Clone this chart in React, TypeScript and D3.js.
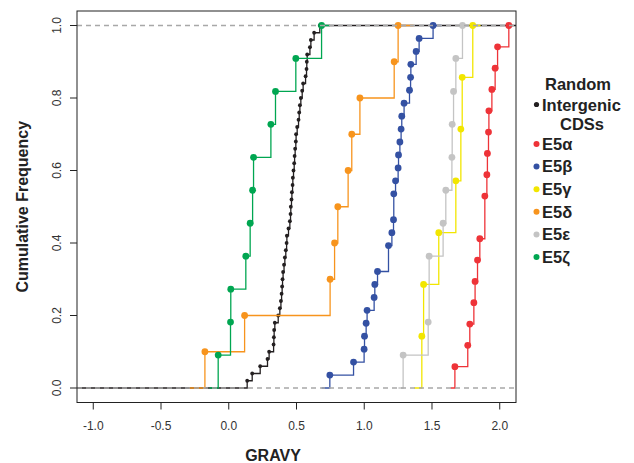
import { useEffect, useRef } from "react";
import * as d3 from "d3";

// GRAVY values, one array per group
const randomIntergenic = [
  0.136, 0.173, 0.232, 0.286, 0.298, 0.331, 0.333, 0.335, 0.340, 0.365,
  0.377, 0.385, 0.390, 0.394, 0.397, 0.401, 0.408, 0.414, 0.421, 0.427,
  0.429, 0.441, 0.451, 0.456, 0.458, 0.463, 0.466, 0.471, 0.473, 0.478,
  0.483, 0.486, 0.490, 0.495, 0.497, 0.505, 0.515, 0.520, 0.525, 0.532,
  0.542, 0.549, 0.567, 0.574, 0.576, 0.579, 0.599, 0.606, 0.630, 0.672,
];
const e5a = [
  1.669, 1.764, 1.779, 1.809, 1.818, 1.836, 1.853, 1.890, 1.890, 1.905,
  1.909, 1.917, 1.920, 1.942, 1.966, 1.984, 2.067,
];
const e5b = [
  0.746, 0.921, 0.999, 1.002, 1.014, 1.021, 1.073, 1.078, 1.098, 1.179,
  1.179, 1.204, 1.216, 1.218, 1.218, 1.231, 1.250, 1.253, 1.263, 1.272,
  1.277, 1.294, 1.334, 1.342, 1.344, 1.383, 1.405, 1.508,
];
const e5g = [1.425, 1.438, 1.550, 1.676, 1.713, 1.723, 1.801];
const e5d = [-0.176, 0.117, 0.748, 0.781, 0.805, 0.881, 0.908, 0.968, 1.221, 1.250];
const e5e = [1.287, 1.472, 1.479, 1.479, 1.582, 1.602, 1.647, 1.649, 1.659, 1.676, 1.725];
const e5z = [-0.078, 0.013, 0.015, 0.126, 0.158, 0.176, 0.183, 0.311, 0.345, 0.495, 0.685];

const seriesNames = ["E5α", "E5β", "E5γ", "E5δ", "E5ε", "E5ζ"];
const seriesColors = ["#ee3338", "#3451a3", "#f2e600", "#f7941d", "#c4c4c4", "#00a651"];
const seriesValues = [e5a, e5b, e5g, e5d, e5e, e5z];

const xTicks = [-1, -0.5, 0, 0.5, 1, 1.5, 2];
const xTickLabels = ["-1.0", "-0.5", "0.0", "0.5", "1.0", "1.5", "2.0"];
const yTicks = [0, 0.2, 0.4, 0.6, 0.8, 1];
const yTickLabels = ["0.0", "0.2", "0.4", "0.6", "0.8", "1.0"];

const W = 634;
const H = 463;
const FONT = "'Liberation Sans', Arial, Helvetica, sans-serif";

export default function App() {
  const ref = useRef<SVGSVGElement | null>(null);

  useEffect(() => {
    if (!ref.current) return;
    const svg = d3.select(ref.current);
    svg.selectAll("*").remove();

    const left = 77, right = 516, top = 11, bottom = 402.5;
    const x = d3.scaleLinear().domain([-1.12, 2.12]).range([left, right]);
    const y = d3.scaleLinear().domain([-0.04, 1.04]).range([bottom, top]);

    svg.append("rect").attr("width", W).attr("height", H).attr("fill", "#fff");

    svg.append("defs").append("clipPath").attr("id", "plotclip")
      .append("rect")
      .attr("x", left).attr("y", top)
      .attr("width", right - left).attr("height", bottom - top);

    const plot = svg.append("g").attr("clip-path", "url(#plotclip)");

    // ecdf like R's plot.stepfun; first one gets xlim = c(-1, 2)
    const drawEcdf = (vals: number[], color: string, r: number, full: boolean) => {
      const sorted = vals.slice().sort((a, b) => a - b);
      const n = sorted.length;
      const knots = Array.from(new Set(sorted));
      const pts = knots.map((k) => [k, sorted.filter((v) => v <= k).length / n]);
      const lo = knots[0], hi = knots[knots.length - 1];
      let dr: number;
      if (full) dr = 3;
      else {
        const diffs = d3.pairs(knots).map(([a, b]) => b - a);
        dr = Math.max(0.08 * (hi - lo), d3.median(diffs) ?? 0);
      }
      const path = [[lo - dr, 0], ...pts, [hi + dr, 1]];
      const line = d3.line<number[]>()
        .x((d) => x(d[0]))
        .y((d) => y(d[1]))
        .curve(d3.curveStepAfter);
      plot.append("path")
        .attr("d", line(path))
        .attr("fill", "none")
        .attr("stroke", color)
        .attr("stroke-width", 1.3);
      plot.selectAll(null)
        .data(pts)
        .enter()
        .append("circle")
        .attr("cx", (d) => x(d[0]))
        .attr("cy", (d) => y(d[1]))
        .attr("r", r)
        .attr("fill", color);
    };

    drawEcdf(randomIntergenic, "#231f20", 1.9, true);
    seriesValues.forEach((vals, i) => drawEcdf(vals, seriesColors[i], 3.4, false));

    // reference lines at 0 and 1
    plot.selectAll(null)
      .data([0, 1])
      .enter()
      .append("line")
      .attr("x1", left).attr("x2", right)
      .attr("y1", (d) => y(d)).attr("y2", (d) => y(d))
      .attr("stroke", "#a8a8a8")
      .attr("stroke-width", 1.4)
      .attr("stroke-dasharray", "5,4");

    // box
    svg.append("rect")
      .attr("x", left).attr("y", top)
      .attr("width", right - left).attr("height", bottom - top)
      .attr("fill", "none").attr("stroke", "#222").attr("stroke-width", 1);

    // x axis
    const xa = svg.append("g");
    xTicks.forEach((t, i) => {
      xa.append("line")
        .attr("x1", x(t)).attr("x2", x(t))
        .attr("y1", bottom).attr("y2", bottom + 7)
        .attr("stroke", "#222");
      xa.append("text")
        .attr("x", x(t)).attr("y", bottom + 27)
        .attr("text-anchor", "middle")
        .attr("font-family", FONT).attr("font-size", 12)
        .attr("fill", "#333")
        .text(xTickLabels[i]);
    });

    // y axis
    const ya = svg.append("g");
    yTicks.forEach((t, i) => {
      ya.append("line")
        .attr("x1", left - 7).attr("x2", left)
        .attr("y1", y(t)).attr("y2", y(t))
        .attr("stroke", "#222");
      ya.append("text")
        .attr("transform", `translate(${left - 16},${y(t)}) rotate(-90)`)
        .attr("text-anchor", "middle")
        .attr("font-family", FONT).attr("font-size", 12)
        .attr("fill", "#333")
        .text(yTickLabels[i]);
    });

    svg.append("text")
      .attr("x", 273).attr("y", 461)
      .attr("text-anchor", "middle")
      .attr("font-family", FONT).attr("font-size", 16).attr("font-weight", "bold")
      .attr("fill", "#222")
      .text("GRAVY");

    svg.append("text")
      .attr("transform", `translate(28,${(top + bottom) / 2}) rotate(-90)`)
      .attr("text-anchor", "middle")
      .attr("font-family", FONT).attr("font-size", 16).attr("font-weight", "bold")
      .attr("fill", "#222")
      .text("Cumulative Frequency");

    // legend
    const lg = svg.append("g")
      .attr("font-family", FONT).attr("font-size", 16.5).attr("font-weight", "bold")
      .attr("fill", "#222");
    lg.append("text").attr("x", 578).attr("y", 90).attr("text-anchor", "middle").text("Random");
    lg.append("circle").attr("cx", 536.5).attr("cy", 104.5).attr("r", 2.6).attr("fill", "#231f20");
    lg.append("text").attr("x", 542).attr("y", 110.5).text("Intergenic");
    lg.append("text").attr("x", 582).attr("y", 129.5).attr("text-anchor", "middle").text("CDSs");
    seriesNames.forEach((name, i) => {
      const cy = 144 + i * 22.6;
      lg.append("circle").attr("cx", 536.5).attr("cy", cy).attr("r", 3).attr("fill", seriesColors[i]);
      lg.append("text").attr("x", 542).attr("y", cy + 5.8).text(name);
    });
  }, []);

  return (
    <svg
      ref={ref}
      width={W}
      height={H}
      style={{ position: "absolute", left: 0, top: 0 }}
    />
  );
}
